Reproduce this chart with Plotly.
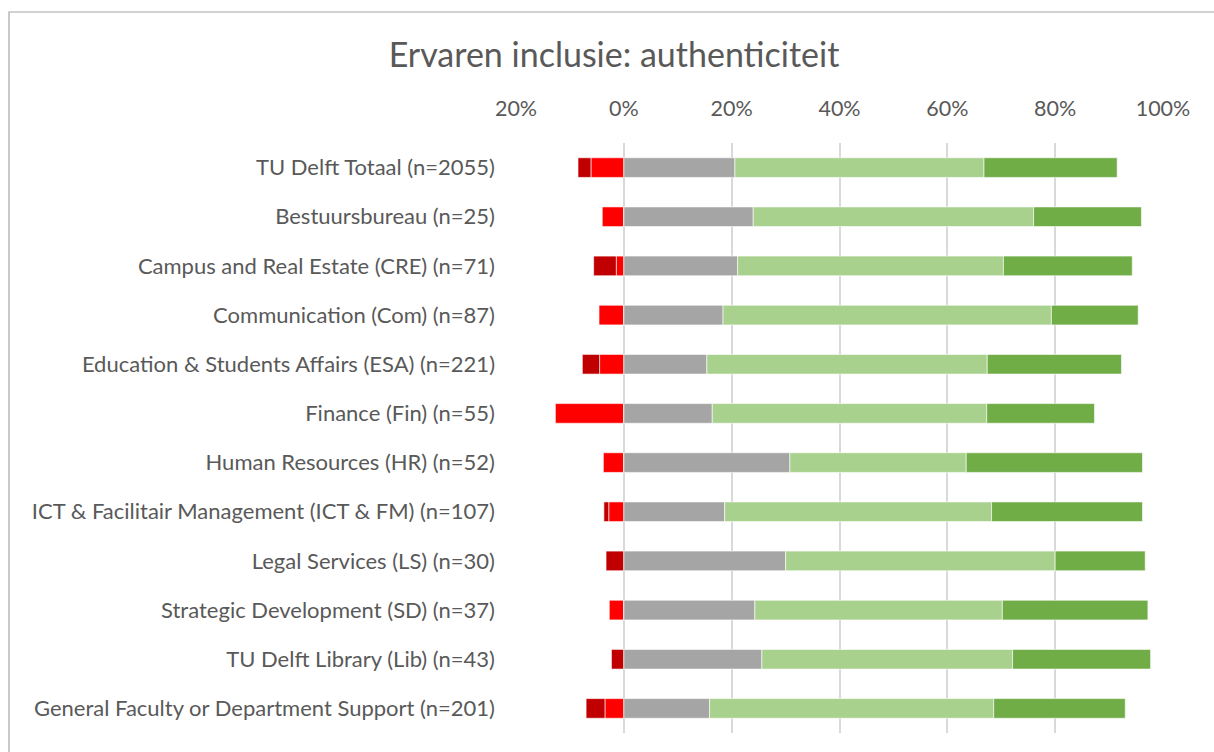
import plotly.graph_objects as go

categories = [
    "TU Delft Totaal (n=2055)",
    "Bestuursbureau (n=25)",
    "Campus and Real Estate (CRE) (n=71)",
    "Communication (Com) (n=87)",
    "Education & Students Affairs (ESA) (n=221)",
    "Finance (Fin) (n=55)",
    "Human Resources (HR) (n=52)",
    "ICT & Facilitair Management (ICT & FM) (n=107)",
    "Legal Services (LS) (n=30)",
    "Strategic Development (SD) (n=37)",
    "TU Delft Library (Lib) (n=43)",
    "General Faculty or Department Support (n=201)",
]

# percentages per answer category (negatives drawn left of 0)
oneens = [6.1, 4.0, 1.4, 4.6, 4.5, 12.7, 3.8, 2.8, 0.0, 2.7, 0.0, 3.5]
helemaal_oneens = [2.4, 0.0, 4.2, 0.0, 3.2, 0.0, 0.0, 0.9, 3.3, 0.0, 2.3, 3.5]
neutraal = [20.6, 24.0, 21.1, 18.4, 15.4, 16.4, 30.8, 18.7, 30.0, 24.3, 25.6, 15.9]
eens = [46.2, 52.0, 49.3, 60.9, 52.0, 50.9, 32.7, 49.5, 50.0, 45.9, 46.5, 52.7]
helemaal_eens = [24.7, 20.0, 23.9, 16.1, 24.9, 20.0, 32.7, 28.0, 16.7, 27.0, 25.6, 24.4]

tick_vals = [-20, 0, 20, 40, 60, 80, 100]
tick_text = ["20%", "0%", "20%", "40%", "60%", "80%", "100%"]

series = [
    ("Oneens", [-v for v in oneens], "#FF0000"),
    ("Helemaal oneens", [-v for v in helemaal_oneens], "#C00000"),
    ("Neutraal", neutraal, "#A5A5A5"),
    ("Eens", eens, "#A9D18E"),
    ("Helemaal eens", helemaal_eens, "#70AD47"),
]

fig = go.Figure()
for name, vals, color in series:
    fig.add_trace(go.Bar(
        y=categories, x=vals, name=name, orientation="h",
        marker=dict(color=color, line=dict(color="rgba(255,255,255,0.6)", width=1)),
    ))

font_family = "Lato, 'Open Sans', sans-serif"
W, H = 1214, 752
L, R, T, B = 516, 51, 143, 19
pw, ph = W - L - R, H - T - B

def px_to_paper_x(px):
    return (px - L) / pw

def px_to_paper_y(py):
    return (H - B - py) / ph

fig.update_layout(
    width=W, height=H,
    barmode="relative",
    bargap=0.6,
    showlegend=False,
    plot_bgcolor="white",
    paper_bgcolor="white",
    margin=dict(l=L, r=R, t=T, b=B),
    font=dict(family=font_family, color="#595959", size=22),
    title=dict(
        text="Ervaren inclusie: authenticiteit",
        x=614 / W, xref="container", xanchor="center",
        y=1 - 55 / H, yref="container", yanchor="middle",
        font=dict(size=34, color="#595959", family=font_family),
    ),
    xaxis=dict(
        side="top", range=[-20, 100],
        tickvals=tick_vals, ticktext=tick_text,
        showgrid=True, gridcolor="#D9D9D9", gridwidth=1.8,
        zeroline=True, zerolinecolor="#D9D9D9", zerolinewidth=1.8,
        showline=False, ticks="", ticklabelstandoff=22,
        tickfont=dict(size=21.5, color="#595959"),
        fixedrange=True,
    ),
    yaxis=dict(
        categoryorder="array", categoryarray=categories,
        autorange="reversed",
        showgrid=False, zeroline=False, showline=False, ticks="",
        ticklabelstandoff=20,
        tickfont=dict(size=22, color="#595959"),
        fixedrange=True,
    ),
    shapes=[dict(
        type="rect", xref="paper", yref="paper",
        x0=px_to_paper_x(9), x1=px_to_paper_x(1300),
        y0=px_to_paper_y(800), y1=px_to_paper_y(12),
        line=dict(color="#A6A6A6", width=1.2), fillcolor="rgba(0,0,0,0)",
        layer="below",
    )],
)

fig.write_html(
    "out.html",
    config={"displayModeBar": False},
    post_script="document.body.style.margin='0';document.body.style.overflow='hidden';",
)
